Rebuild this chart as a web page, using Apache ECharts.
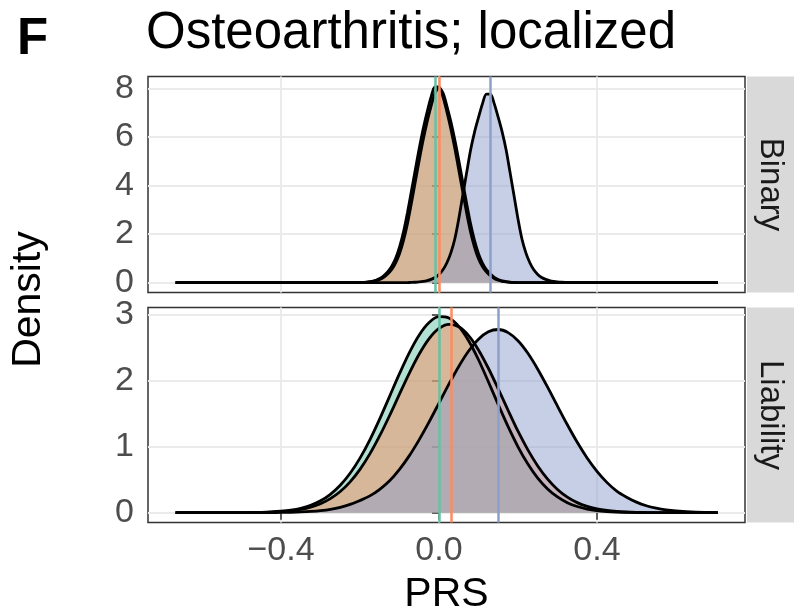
<!DOCTYPE html>
<html><head><meta charset="utf-8">
<script src="https://cdn.jsdelivr.net/npm/echarts@6/dist/echarts.min.js"></script>
<style>html,body{margin:0;padding:0;background:#fff}#c{width:794px;height:615px}</style>
</head><body><div id="c"></div>
<script>
// ---------- data ----------
const panels = ['Binary', 'Liability'];
const groups = ['group1', 'group2', 'group3'];

const binaryX = [-0.667, -0.4, -0.3, -0.25, -0.2, -0.19, -0.18, -0.17, -0.16, -0.15, -0.14, -0.13, -0.12, -0.11, -0.1, -0.09, -0.08, -0.07, -0.06, -0.05, -0.04, -0.03, -0.02, -0.01, 0, 0.01, 0.02, 0.03, 0.04, 0.05, 0.06, 0.07, 0.08, 0.09, 0.1, 0.11, 0.12, 0.13, 0.14, 0.15, 0.16, 0.17, 0.18, 0.19, 0.2, 0.21, 0.22, 0.23, 0.24, 0.25, 0.26, 0.27, 0.28, 0.29, 0.3, 0.31, 0.32, 0.33, 0.4, 0.5, 0.706];
const binaryGreen = [0, 0, 0, 0.0004,
  0.009, 0.017, 0.031, 0.057, 0.1, 0.17, 0.285, 0.445, 0.67, 0.99, 1.46, 2.08, 2.87, 3.75, 4.65, 5.53, 6.33, 7.03, 7.65, 8.06,
  8.06, 7.65, 7.03, 6.33, 5.53, 4.65, 3.75, 2.87, 2.08, 1.46, 0.99, 0.67, 0.445, 0.285, 0.17, 0.1, 0.057, 0.031, 0.017, 0.009, 0.0045, 0.002, 0.001, 0.0005, 0.0003, 0.0002, 0.0001, 0, 0, 0, 0, 0, 0, 0,
  0, 0, 0];
const binaryOrange = [0, 0, 0, 0.0002,
  0.006, 0.012, 0.023, 0.042, 0.074, 0.13, 0.22, 0.36, 0.54, 0.81, 1.19, 1.73, 2.42, 3.26, 4.15, 5.04, 5.88, 6.63, 7.27, 7.81,
  8.0, 7.81, 7.27, 6.63, 5.88, 5.04, 4.15, 3.26, 2.42, 1.73, 1.19, 0.81, 0.54, 0.36, 0.22, 0.13, 0.074, 0.042, 0.023, 0.012, 0.006, 0.003, 0.0015, 0.0008, 0.0004, 0.0002, 0.0001, 0, 0, 0, 0, 0, 0, 0,
  0, 0, 0];
const binaryBlue = [0, 0, 0, 0,
  0, 0, 0, 0, 0, 0, 0.0001, 0.0002, 0.0004, 0.0008, 0.0015, 0.003, 0.006, 0.011, 0.019, 0.033, 0.055, 0.088, 0.138, 0.215,
  0.34, 0.53, 0.82, 1.23, 1.8, 2.62, 3.58, 4.53, 5.46, 6.2, 6.8, 7.36, 7.76, 7.76, 7.36, 6.8, 6.2, 5.46, 4.53, 3.58, 2.62, 1.8, 1.23, 0.82, 0.53, 0.34, 0.215, 0.138, 0.088, 0.055, 0.033, 0.019, 0.011, 0.006,
  0.0002, 0, 0];

const liabilityX = [-0.667, -0.6, -0.5, -0.475, -0.45, -0.425, -0.4, -0.375, -0.35, -0.325, -0.3, -0.275, -0.25, -0.225, -0.2, -0.175, -0.15, -0.125, -0.1, -0.075, -0.05, -0.025, 0, 0.025, 0.05, 0.075, 0.1, 0.125, 0.15, 0.175, 0.2, 0.225, 0.25, 0.275, 0.3, 0.325, 0.35, 0.375, 0.4, 0.425, 0.45, 0.475, 0.5, 0.525, 0.55, 0.575, 0.6, 0.65, 0.706];
const liabilityGreen = [0, 0.0001,
  0.0014, 0.003, 0.006, 0.0116, 0.0216, 0.0388, 0.0672, 0.112, 0.18, 0.279, 0.416, 0.598, 0.828, 1.106, 1.424, 1.766, 2.11, 2.43, 2.698, 2.886,
  2.974, 2.955, 2.828, 2.609, 2.321, 1.988, 1.64, 1.305, 1.0, 0.739, 0.526, 0.361, 0.2385, 0.1517, 0.0936, 0.0553, 0.0316, 0.0174, 0.0092, 0.0047, 0.0023, 0.001, 0.0005, 0.0002, 0.0001,
  0, 0];
const liabilityOrange = [0, 0.0001,
  0.001, 0.0024, 0.0045, 0.0087, 0.0161, 0.029, 0.0504, 0.0844, 0.1367, 0.2135, 0.3217, 0.4684, 0.6578, 0.892, 1.168, 1.475, 1.8, 2.119, 2.408, 2.642,
  2.797, 2.859, 2.821, 2.687, 2.47, 2.192, 1.878, 1.553, 1.236, 0.953, 0.7094, 0.5095, 0.3528, 0.2361, 0.1525, 0.0951, 0.0572, 0.0332, 0.0186, 0.01, 0.0053, 0.0027, 0.0013, 0.0006, 0.0003,
  0.0001, 0];
const liabilityBlue = [0, 0.0001,
  0.0003, 0.0005, 0.001, 0.002, 0.0035, 0.006, 0.011, 0.019, 0.032, 0.052, 0.082, 0.125, 0.185, 0.255, 0.355, 0.484, 0.657, 0.866, 1.109, 1.378,
  1.663, 1.95, 2.219, 2.453, 2.634, 2.746, 2.78, 2.733, 2.609, 2.419, 2.178, 1.905, 1.617, 1.334, 1.068, 0.83, 0.628, 0.46, 0.327, 0.235, 0.16, 0.105, 0.068, 0.042, 0.026,
  0.009, 0.002];

const binaryMeans = [-0.005, 0.001, 0.125];
const liabilityMeans = [0.002, 0.027, 0.147];

const xTicks = [-0.4, 0, 0.4];
const binaryYTicks = [0, 2, 4, 6, 8];
const liabilityYTicks = [0, 1, 2, 3];

const titleText = 'Osteoarthritis; localized';
const panelLetter = 'F';
const xTitle = 'PRS';
const yTitle = 'Density';

// ---------- styling ----------
const FONT = '"Liberation Sans", Arial, Helvetica, sans-serif';
const groupColors = ['#66C2A5', '#FC8D62', '#8DA0CB'];
const X_MIN = -0.7367, X_MAX = 0.7747;
const PANEL_LEFT = 148, PANEL_W = 597;
const PANELS = [{ top: 76.5, h: 216, yMin: -0.403, yMax: 8.486 }, { top: 307.5, h: 215, yMin: -0.149, yMax: 3.114 }];
const TICK_FONT = 34;

function pairs(xs, ys) { return xs.map((x, i) => [x, ys[i]]); }
function fmtX(v) {
  const s = Math.abs(v).toFixed(1);
  return v < -1e-9 ? '\u2212' + s : s;
}

const chart = echarts.init(document.getElementById('c'), null, { renderer: 'canvas' });

const grids = PANELS.map(p => ({
  left: PANEL_LEFT, top: p.top, width: PANEL_W, height: p.h,
  show: true, borderColor: '#333333', borderWidth: 1.5, backgroundColor: '#FFFFFF', containLabel: false
}));

const xAxes = [0, 1].map(i => ({
  gridIndex: i, type: 'value', min: X_MIN, max: X_MAX,
  axisLine: { show: false },
  axisTick: { show: i === 1, customValues: xTicks, length: 7, lineStyle: { color: '#333333', width: 1.5 } },
  axisLabel: { show: i === 1, customValues: xTicks, fontSize: TICK_FONT, color: '#4D4D4D', fontFamily: FONT, margin: 11, formatter: fmtX },
  splitLine: { show: true, lineStyle: { color: '#EBEBEB', width: 2 } }
}));

const yTickSets = [binaryYTicks, liabilityYTicks];
const yAxes = [0, 1].map(i => ({
  gridIndex: i, type: 'value', min: PANELS[i].yMin, max: PANELS[i].yMax,
  axisLine: { show: false },
  axisTick: { show: true, customValues: yTickSets[i], length: 7, lineStyle: { color: '#333333', width: 1.5 } },
  axisLabel: { show: true, customValues: yTickSets[i], fontSize: TICK_FONT, color: '#4D4D4D', fontFamily: FONT, margin: 14, formatter: v => String(Math.round(v)) },
  splitLine: { show: true, lineStyle: { color: '#EBEBEB', width: 2 } }
}));

function densitySeries(name, xs, ys, color, gi) {
  return {
    type: 'line', name: name, xAxisIndex: gi, yAxisIndex: gi,
    data: pairs(xs, ys), showSymbol: false, symbol: 'none', smooth: 0.3,
    lineStyle: { color: '#000000', width: 2.8 },
    areaStyle: { color: color, opacity: 0.5 },
    z: 2, silent: true, animation: false
  };
}
function meanSeries(means, gi) {
  return {
    type: 'line', xAxisIndex: gi, yAxisIndex: gi, data: [], z: 5, silent: true, animation: false,
    markLine: {
      silent: true, animation: false, symbol: ['none', 'none'], label: { show: false },
      lineStyle: { type: 'solid', width: 2.5 },
      data: means.map((m, k) => ({ xAxis: m, lineStyle: { color: groupColors[k], type: 'solid', width: 2.5 } }))
    }
  };
}

const series = [
  densitySeries(groups[0], binaryX, binaryGreen, groupColors[0], 0),
  densitySeries(groups[1], binaryX, binaryOrange, groupColors[1], 0),
  densitySeries(groups[2], binaryX, binaryBlue, groupColors[2], 0),
  densitySeries(groups[0], liabilityX, liabilityGreen, groupColors[0], 1),
  densitySeries(groups[1], liabilityX, liabilityOrange, groupColors[1], 1),
  densitySeries(groups[2], liabilityX, liabilityBlue, groupColors[2], 1),
  meanSeries(binaryMeans, 0),
  meanSeries(liabilityMeans, 1)
];

function txt(text, x, y, size, color, opts) {
  opts = opts || {};
  return {
    type: 'text', x: x, y: y, rotation: opts.rotation || 0, z: 10, silent: true,
    style: {
      text: text, fontSize: size, fontFamily: FONT, fontWeight: opts.weight || 'normal', fill: color,
      textAlign: opts.align || 'center', align: opts.align || 'center',
      textVerticalAlign: 'middle', verticalAlign: 'middle'
    }
  };
}

const graphics = [];
PANELS.forEach((p, i) => {
  graphics.push({ type: 'rect', z: 1, silent: true, shape: { x: 747, y: p.top, width: 47, height: p.h }, style: { fill: '#D9D9D9' } });
  graphics.push(txt(panels[i], 770.5, p.top + p.h / 2, 33, '#1A1A1A', { rotation: -Math.PI / 2 }));
});
graphics.push(txt(titleText, 146, 34, 51, '#000000', { align: 'left' }));
graphics.push(txt(panelLetter, 17, 39.5, 51, '#000000', { align: 'left', weight: 'bold' }));
graphics.push(txt(xTitle, PANEL_LEFT + PANEL_W / 2, 595, 41, '#000000'));
graphics.push(txt(yTitle, 29, (PANELS[0].top + PANELS[1].top + PANELS[1].h) / 2, 41, '#000000', { rotation: Math.PI / 2 }));

chart.setOption({
  animation: false,
  backgroundColor: '#FFFFFF',
  grid: grids,
  xAxis: xAxes,
  yAxis: yAxes,
  series: series,
  graphic: { elements: graphics }
});
</script>
</body></html>
